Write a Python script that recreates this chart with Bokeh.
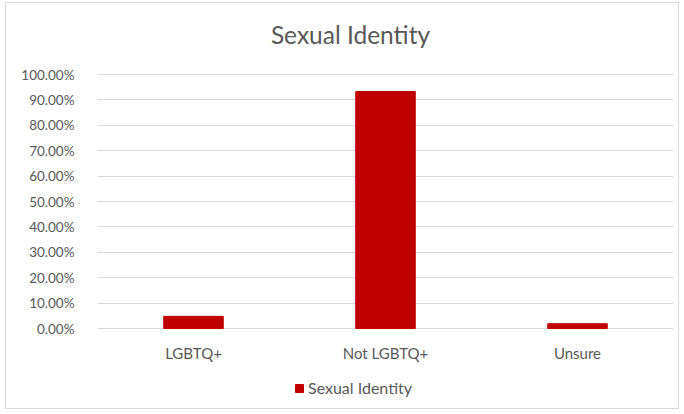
from bokeh.plotting import figure
from bokeh.models import ColumnDataSource, NumeralTickFormatter, FixedTicker, Range1d, Legend, LegendItem, Label, LabelSet
from bokeh.core.properties import value
from bokeh.embed import file_html
from bokeh.resources import INLINE

categories = ["LGBTQ+", "Not LGBTQ+", "Unsure"]
values = [0.048, 0.933, 0.019]
series_name = "Sexual Identity"
title_text = "Sexual Identity"
y_ticks = [0.0, 0.1, 0.2, 0.3, 0.4, 0.5, 0.6, 0.7, 0.8, 0.9, 1.0]

FONT = "Lato"
GRAY = "#595959"

src = ColumnDataSource(dict(cat=categories, val=values, base=[0.0] * len(categories)))

p = figure(x_range=categories, y_range=Range1d(-0.299, 1.2795), width=674, height=407,
           output_backend="svg", toolbar_location=None,
           min_border_left=91, min_border_right=7, min_border_top=0, min_border_bottom=6)
p.styles = {"margin-left": "5px", "margin-top": "2px", "border": "1px solid #d9d9d9"}
p.outline_line_color = None

r = p.vbar(x="cat", top="val", width=0.31, source=src, fill_color="#c00000", line_color="#c00000")

title = Label(x=253, y=370, x_units="screen", y_units="screen", text=title_text,
              text_align="center", text_baseline="alphabetic", text_font=FONT,
              text_font_size="24.5px", text_color=GRAY)
p.add_layout(title)

p.xaxis.visible = False
p.xgrid.grid_line_color = None
p.ygrid.grid_line_color = "#d9d9d9"
p.ygrid.ticker = FixedTicker(ticks=y_ticks)
p.yaxis.ticker = FixedTicker(ticks=y_ticks)
p.yaxis.formatter = NumeralTickFormatter(format="0.00%")
ya = p.yaxis[0]
ya.axis_line_color = None
ya.major_tick_line_color = None
ya.minor_tick_line_color = None
ya.major_label_text_font = FONT
ya.major_label_text_color = GRAY
ya.major_label_text_font_size = "13.5px"
ya.major_label_standoff = 17

cat_labels = LabelSet(x="cat", y="base", text="cat", source=src, y_offset=-24,
                      text_align="center", text_baseline="middle", text_font=value(FONT),
                      text_font_size="15px", text_color=GRAY)
p.add_layout(cat_labels)

legend = Legend(items=[LegendItem(label=series_name, renderers=[r])], location=(197, 7),
                orientation="horizontal", glyph_width=10, glyph_height=10, label_text_font=FONT,
                label_text_font_size="16px", label_text_color=GRAY, border_line_color=None,
                background_fill_alpha=0, label_standoff=4, padding=0, margin=0)
p.add_layout(legend, "center")

open("out.html", "w").write(file_html(p, INLINE))
